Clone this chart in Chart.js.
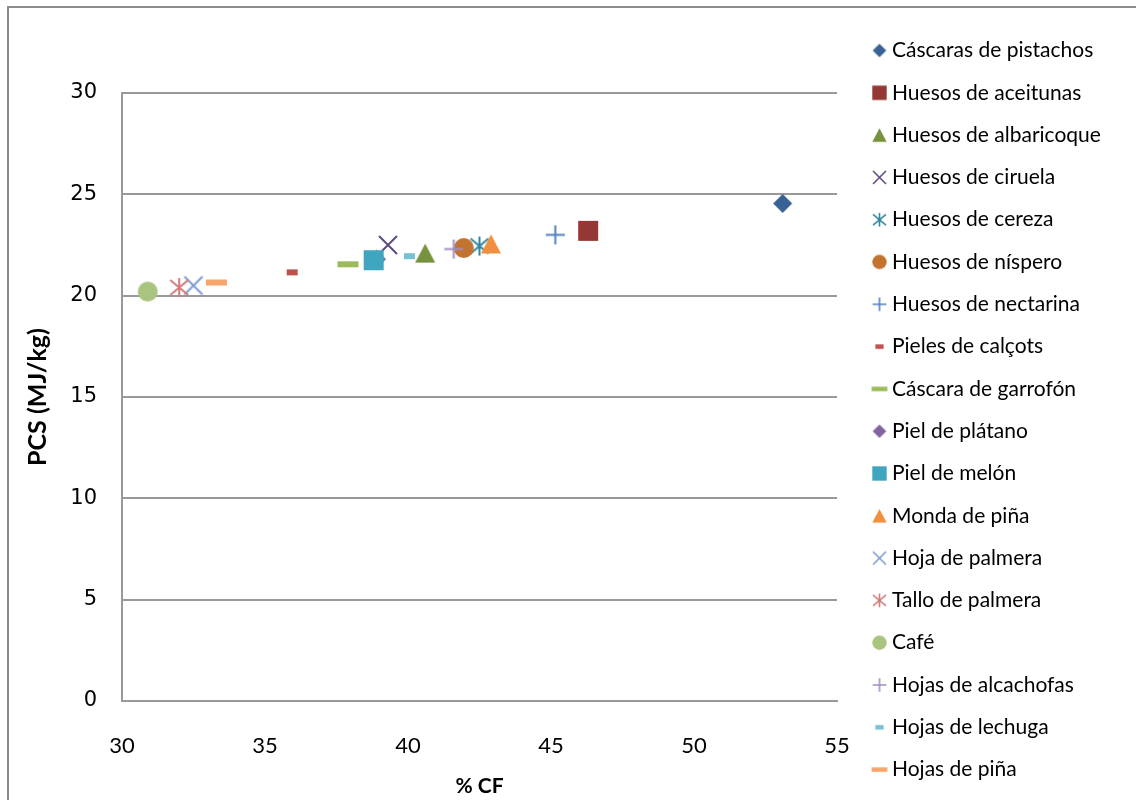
<!DOCTYPE html>
<html>
<head>
<meta charset="utf-8">
<title>PCS frente a % CF</title>
<script src="https://cdn.jsdelivr.net/npm/chart.js@4.4.1/dist/chart.umd.min.js"></script>
<style>
  html, body { margin: 0; padding: 0; background: #ffffff; }
  #wrap { width: 1136px; height: 800px; position: relative; }
</style>
</head>
<body>
<div id="wrap"><canvas id="chart" width="1136" height="800"></canvas></div>
<script>
// ---- data ---------------------------------------------------------------
const seriesNames = [
  'Cáscaras de pistachos', 'Huesos de aceitunas', 'Huesos de albaricoque',
  'Huesos de ciruela', 'Huesos de cereza', 'Huesos de níspero',
  'Huesos de nectarina', 'Pieles de calçots', 'Cáscara de garrofón',
  'Piel de plátano', 'Piel de melón', 'Monda de piña',
  'Hoja de palmera', 'Tallo de palmera', 'Café',
  'Hojas de alcachofas', 'Hojas de lechuga', 'Hojas de piña'
];
// fixed carbon, %
const cfPercent = [53.1, 46.3, 40.6, 39.3, 42.5, 41.95, 45.15, 35.95, 37.9,
                   38.9, 38.8, 42.9, 32.5, 32.0, 30.9, 41.6, 40.05, 33.3];
// higher heating value, MJ/kg
const pcsMJkg = [24.55, 23.2, 22.1, 22.5, 22.45, 22.35, 23.0, 21.15, 21.55,
                 21.8, 21.75, 22.55, 20.5, 20.4, 20.2, 22.3, 21.95, 20.65];
const xTicks = [30, 35, 40, 45, 50, 55];
const yTicks = [0, 5, 10, 15, 20, 25, 30];

// ---- marker styles (shape + colour per series) ---------------------------
const markerShapes = ['diamond', 'square', 'triangle', 'cross', 'star', 'circle',
                      'plus', 'dashShort', 'dashLong', 'diamond', 'square', 'triangle',
                      'cross', 'star', 'circle', 'plus', 'dashShort', 'dashLong'];
const markerColors = ['#386296', '#953735', '#76923c', '#5f4a7f', '#31859c', '#c27330',
                      '#4f81bd', '#c0504d', '#9bbb59', '#8064a2', '#40a6bf', '#f0903f',
                      '#7b9bd1', '#d17c7a', '#a9c47f', '#a08fc0', '#78c0d4', '#f8a56d'];

const shapeDims = {
  diamond: [19, 19], square: [20, 20], triangle: [20, 19], cross: [18, 18],
  star: [18, 19], circle: [20, 20], plus: [19, 19], dashLong: [21, 6], dashShort: [11, 6]
};

function makeMarker(shape, color, k) {
  const w = shapeDims[shape][0] * k, h = shapeDims[shape][1] * k;
  const cv = document.createElement('canvas');
  cv.width = Math.ceil(w) + 4;
  cv.height = Math.ceil(h) + 4;
  const g = cv.getContext('2d');
  const cx = cv.width / 2, cy = cv.height / 2;
  g.fillStyle = color;
  g.strokeStyle = color;
  g.lineWidth = 2 * Math.max(k, 0.8);
  g.lineCap = 'butt';
  g.beginPath();
  switch (shape) {
    case 'diamond':
      g.moveTo(cx, cy - h / 2); g.lineTo(cx + w / 2, cy);
      g.lineTo(cx, cy + h / 2); g.lineTo(cx - w / 2, cy); g.closePath(); g.fill();
      break;
    case 'square':
      g.rect(cx - w / 2, cy - h / 2, w, h); g.fill();
      break;
    case 'triangle':
      g.moveTo(cx, cy - h / 2); g.lineTo(cx + w / 2, cy + h / 2);
      g.lineTo(cx - w / 2, cy + h / 2); g.closePath(); g.fill();
      break;
    case 'circle':
      g.arc(cx, cy, w / 2, 0, Math.PI * 2); g.fill();
      break;
    case 'cross':
      g.moveTo(cx - w / 2, cy - h / 2); g.lineTo(cx + w / 2, cy + h / 2);
      g.moveTo(cx + w / 2, cy - h / 2); g.lineTo(cx - w / 2, cy + h / 2); g.stroke();
      break;
    case 'star':
      g.moveTo(cx - w / 2, cy - h / 2 + 2 * k); g.lineTo(cx + w / 2, cy + h / 2 - 2 * k);
      g.moveTo(cx + w / 2, cy - h / 2 + 2 * k); g.lineTo(cx - w / 2, cy + h / 2 - 2 * k);
      g.moveTo(cx, cy - h / 2); g.lineTo(cx, cy + h / 2); g.stroke();
      break;
    case 'plus':
      g.moveTo(cx - w / 2, cy); g.lineTo(cx + w / 2, cy);
      g.moveTo(cx, cy - h / 2); g.lineTo(cx, cy + h / 2); g.stroke();
      break;
    case 'dashLong':
    case 'dashShort':
      g.rect(cx - w / 2, cy - h / 2, w, h); g.fill();
      break;
  }
  return cv;
}

const plotMarkers = markerShapes.map((s, i) => makeMarker(s, markerColors[i], 1));
const legendMarkers = markerShapes.map((s, i) => makeMarker(s, markerColors[i], s.startsWith('dash') ? 0.75 : 0.72));

// ---- layout constants ----------------------------------------------------
const PLOT_LEFT = 122, PLOT_RIGHT = 837, PLOT_TOP = 93, PLOT_BOTTOM = 701;
const LEGEND_X = 877.5, LEGEND_Y = 40, LEGEND_FONT = 21;
const LEGEND_GAP = 42.3 - LEGEND_FONT;

// thin grey frame around the whole figure
const frame = {
  id: 'frame',
  beforeDraw(chart) {
    const c = chart.ctx;
    c.save();
    c.strokeStyle = '#8c8c8c';
    c.lineWidth = 2;
    c.beginPath();
    c.moveTo(8, chart.height + 10);
    c.lineTo(8, 7);
    c.lineTo(chart.width + 10, 7);
    c.stroke();
    c.restore();
  }
};

// legend box: fixed width on the right, items starting at a fixed spot
const legendPlacement = {
  id: 'legendPlacement',
  beforeLayout(chart) {
    const lg = chart.legend;
    if (lg && !lg.$fixedFit) {
      const fit = lg.fit;
      lg.fit = function () { fit.call(this); this.width = chart.width - PLOT_RIGHT; };
      lg.$fixedFit = true;
    }
  },
  afterLayout(chart) {
    const lg = chart.legend;
    lg.left = LEGEND_X - LEGEND_GAP;
    lg.right = chart.width;
    lg.top = LEGEND_Y - LEGEND_GAP;
    lg.bottom = chart.height + 200;
  }
};

const n = seriesNames.length;
const datasets = seriesNames.map((name, i) => ({
  label: name,
  data: [{ x: cfPercent[i], y: pcsMJkg[i] }],
  pointStyle: plotMarkers[i],
  pointRadius: 10,
  pointHoverRadius: 10,
  backgroundColor: markerColors[i],
  borderColor: markerColors[i],
  order: n - i            // later series are painted on top
}));

new Chart(document.getElementById('chart'), {
  type: 'scatter',
  data: { datasets },
  plugins: [frame, legendPlacement],
  options: {
    responsive: false,
    animation: false,
    events: [],
    layout: { padding: { left: 0, top: PLOT_TOP, right: 0, bottom: 0 } },
    plugins: {
      tooltip: { enabled: false },
      legend: {
        position: 'right',
        align: 'start',
        labels: {
          usePointStyle: true,
          boxWidth: 4,
          boxHeight: 4,
          padding: LEGEND_GAP,
          color: '#000000',
          font: { family: 'Lato', size: LEGEND_FONT },
          generateLabels(chart) {
            return chart.data.datasets.map((ds, i) => ({
              text: ds.label,
              pointStyle: legendMarkers[i],
              datasetIndex: i,
              hidden: false,
              fillStyle: markerColors[i],
              strokeStyle: markerColors[i],
              lineWidth: 0,
              fontColor: '#000000'
            }));
          }
        }
      }
    },
    scales: {
      x: {
        type: 'linear',
        min: xTicks[0],
        max: xTicks[xTicks.length - 1],
        afterBuildTicks(scale) { scale.ticks = xTicks.map(v => ({ value: v })); },
        afterFit(scale) { scale.height = 800 - PLOT_BOTTOM; },
        grid: { display: false, drawTicks: false },
        border: { display: true, color: '#999999', width: 2 },
        ticks: {
          padding: 32,
          color: '#000000',
          maxRotation: 0,
          autoSkip: false,
          font: { family: 'Lato', size: 22 }
        },
        title: {
          display: true,
          text: '% CF',
          color: '#000000',
          font: { family: 'Lato', size: 21, weight: 'bold' },
          padding: { top: 0, bottom: 1 }
        }
      },
      y: {
        type: 'linear',
        min: yTicks[0],
        max: yTicks[yTicks.length - 1],
        afterBuildTicks(scale) { scale.ticks = yTicks.map(v => ({ value: v })); },
        afterFit(scale) { scale.width = PLOT_LEFT; },
        grid: { display: true, color: '#999999', lineWidth: 2, drawTicks: false },
        border: { display: true, color: '#999999', width: 2 },
        ticks: {
          padding: 25,
          color: '#000000',
          autoSkip: false,
          font: { family: 'DejaVu Sans', size: 21 }
        },
        title: {
          display: true,
          text: 'PCS (MJ/kg)',
          color: '#000000',
          font: { family: 'Lato', size: 25, weight: 'bold' },
          padding: { top: 23, bottom: 0 }
        }
      }
    }
  }
});
</script>
</body>
</html>
